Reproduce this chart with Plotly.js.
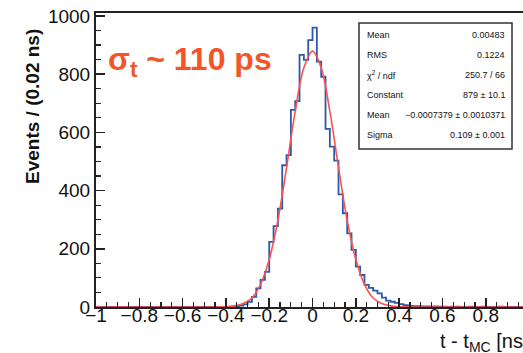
<!DOCTYPE html>
<html><head><meta charset="utf-8">
<script src="https://cdn.plot.ly/plotly-3.0.1.min.js"></script>
<style>html,body{margin:0;padding:0;background:#fff;} #chart{width:523px;height:353px;}</style>
</head><body><div id="chart"></div>
<script>
// Histogram: 100 bins of 0.02 ns from -1 to 1
const binStart = -1.0;
const binWidth = 0.02;
const counts = [
  0,0,0,0,0,0,0,0,0,0,
  0,0,0,0,0,0,0,0,0,0,
  0,0,0,0,0,0,0,0,0,0,
  0,1,2,5,9,18,35,64,93,121,
  224,278,338,487,522,677,707,866,849,917,
  960,843,791,612,551,503,387,322,253,196,
  139,110,76,66,56,47,32,22,18,14,
  10,6,4,3,3,2,2,1,2,1,
  1,0,1,1,0,0,1,0,0,1,
  0,0,0,1,0,0,0,0,0,0
];
// Fit curve
const fitX = [-1.0,-0.6,-0.48,-0.44,-0.40,-0.36,-0.32,-0.28,-0.24,-0.20,-0.16,-0.12,-0.08,-0.04,0.0,0.04,0.08,0.12,0.16,0.20,0.24,0.28,0.32,0.36,0.40,0.44,0.48,0.6,1.0];
const fitY = [0,0,0.1,0.2,1,4,12,31,78,163,298,479,672,822,879,822,672,479,298,163,78,31,12,4,1,0.2,0.1,0,0];
// Statistics box
const statLabels = ["Mean","RMS","χ<sup>2</sup> / ndf","Constant","Mean","Sigma"];
const statValues = ["0.00483","0.1224","250.7 / 66","879 ± 10.1","\u22120.0007379 ± 0.0010371","0.109 ± 0.001"];
const resolutionText = "σ<sub>t</sub> ~ 110 ps";
const yTitle = "Events / (0.02 ns)";
const xTitle = "t - t<sub>MC</sub> [ns]";

const edges = counts.map((c,i)=> +(binStart + i*binWidth).toFixed(2));
edges.push(+(binStart + counts.length*binWidth).toFixed(2));
const stepY = counts.concat([counts[counts.length-1]]);

const FONT = "Liberation Sans, Arial, Helvetica, sans-serif";
const W = 523, H = 353;
const L = 96, R = 0, T = 13, B = 46;
const pw = W - L - R, ph = H - T - B;
const px = v => (v - L) / pw;
const py = v => (H - B - v) / ph;
const xRange = [-1, 0.972];

const traces = [
  {x: edges, y: stepY, type:'scatter', mode:'lines', line:{shape:'hv', color:'#2a5aa8', width:1.8}, hoverinfo:'skip'},
  {x: fitX, y: fitY, type:'scatter', mode:'lines', line:{shape:'spline', smoothing:1, color:'#ff5050', width:1.6}, hoverinfo:'skip'},
  {x: [], y: [], xaxis:'x2', type:'scatter', mode:'lines', hoverinfo:'skip'}
];

const annotations = [];
const rowY = [35,55,75,95,115,135];
statLabels.forEach((t,i)=>{
  annotations.push({xref:'paper', yref:'paper', x:px(365), y:py(rowY[i]), xanchor:'left', yanchor:'middle', text:t, showarrow:false, font:{family:FONT, size:9, color:'#111'}});
  annotations.push({xref:'paper', yref:'paper', x:px(507), y:py(rowY[i]), xanchor:'right', yanchor:'middle', text:statValues[i], showarrow:false, font:{family:FONT, size:9, color:'#111'}});
});
annotations.push({xref:'paper', yref:'paper', x:px(106), y:py(62), xanchor:'left', yanchor:'middle', text:'<b>'+resolutionText+'</b>', showarrow:false, font:{family:FONT, size:32, color:'#f2552a'}});
annotations.push({xref:'paper', yref:'paper', x:px(32), y:py(107), xanchor:'center', yanchor:'middle', textangle:-90, text:'<b>'+yTitle+'</b>', showarrow:false, font:{family:FONT, size:19, color:'#111'}});
annotations.push({xref:'paper', yref:'paper', x:px(438), y:py(342), xanchor:'left', yanchor:'middle', text:xTitle, showarrow:false, font:{family:FONT, size:20, color:'#111'}});

const layout = {
  width: W, height: H,
  margin: {l:L, r:R, t:T, b:B, pad:0},
  paper_bgcolor:'#fff', plot_bgcolor:'#fff',
  showlegend:false,
  font:{family:FONT, color:'#111'},
  xaxis:{range:xRange, showgrid:false, zeroline:false, showline:true, linecolor:'#222', linewidth:2, mirror:true,
    ticks:'inside', ticklen:9, tickwidth:1.5, tickcolor:'#222', tick0:0, dtick:0.2, showticklabels:false,
    minor:{dtick:0.05, ticks:'inside', ticklen:5, tickwidth:1.2, tickcolor:'#222'}},
  xaxis2:{range:xRange, overlaying:'x', anchor:'free', position:0.018, side:'bottom', showgrid:false, zeroline:false, showline:false,
    ticks:'', tick0:0, dtick:0.2, showticklabels:true,
    tickfont:{family:FONT, size:19, color:'#111'}},
  yaxis:{range:[0,1010], showgrid:false, zeroline:false, showline:true, linecolor:'#222', linewidth:2,
    ticks:'inside', ticklen:9, tickwidth:1.5, tickcolor:'#222', tick0:0, dtick:200,
    minor:{dtick:50, ticks:'inside', ticklen:5, tickwidth:1.2, tickcolor:'#222'},
    tickfont:{family:FONT, size:19, color:'#111'}},
  shapes:[
    {type:'rect', xref:'paper', yref:'paper', x0:px(359), x1:px(512), y0:py(149), y1:py(23), line:{color:'#333', width:1.5}, fillcolor:'#fff', layer:'above'}
  ],
  annotations: annotations
};
Plotly.newPlot('chart', traces, layout, {staticPlot:true, displayModeBar:false});
</script></body></html>
